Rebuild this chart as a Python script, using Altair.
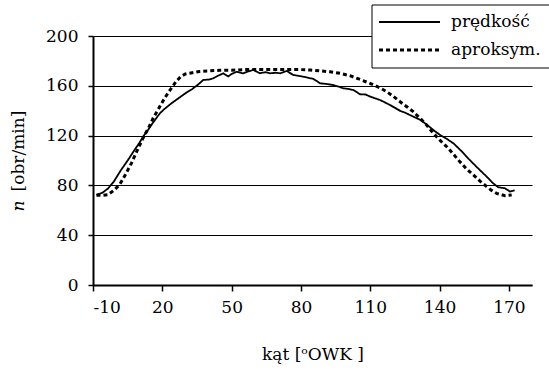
import altair as alt
import pandas as pd

# measured speed (prędkość)
speed_x = [-8.5, -6, -3.5, -1, 2, 5, 8, 10, 12, 14, 16, 19, 21, 24, 27, 30, 33, 35.5,
           37.7, 40, 42, 44, 46.4, 48.5, 50, 52.2, 55, 57, 59.4, 62.3, 64.5, 66.6, 69,
           71, 73.8, 76.7, 79, 81, 83, 85.4, 88.3, 91, 94, 96, 98.3, 100.5, 102.7,
           105.6, 108, 110, 112, 114.2, 116, 118.5, 120.5, 123, 125, 127.2, 129.5,
           131.5, 134, 136, 138, 140.2, 143, 146, 149.5, 153, 156.5, 160.4, 163,
           165.4, 168.3, 170.5, 172.5]
speed_y = [72.5, 74, 77.5, 83, 92, 100, 108.5, 114, 120, 125, 130.5, 138, 141.5, 146,
           150, 154, 157.5, 161, 164.7, 165, 166, 168, 170, 167.5, 169.5, 171.3, 170,
           171.5, 172.7, 170, 171, 170, 170.5, 170, 171.9, 168.7, 168, 167.3, 166.5,
           165.5, 162, 161.5, 160.6, 159.5, 158, 157.5, 156.6, 153.2, 153, 151.3, 150,
           148.6, 147, 144.6, 142.5, 139.8, 138.5, 136.5, 134.5, 132.8, 129.5, 126.5,
           123.5, 120.5, 117.5, 113.8, 107.5, 100.5, 94, 87, 82, 78.5, 77.7, 75, 76]

# approximation (aproksym.)
approx_x = [-8.5, -6, -3.5, -1, 1.5, 4, 6.6, 9, 11.6, 14, 16, 18.5, 21, 23.5, 26, 28,
            30, 33, 36, 40, 45, 50, 55, 60, 65, 70, 75, 80, 84, 88, 92.6, 97, 101.2,
            105, 109.9, 114, 117.1, 120, 122.9, 126, 128.6, 131.5, 134.4, 137.3, 140,
            143.1, 146, 148.8, 151.5, 154.6, 157.5, 160.4, 162.5, 164.7, 168.3, 171.2]
approx_y = [72, 72, 72.5, 76, 80.5, 88.5, 97.7, 107.5, 117.8, 126, 133.9, 142, 150,
            157, 163.5, 167.5, 169.5, 170.5, 171.5, 172, 172.5, 172.5, 173, 173, 173,
            173, 173, 173, 172.7, 172, 171.3, 170, 168.1, 165.5, 162, 158.5, 155.3,
            151.5, 147.2, 143, 139.2, 134, 128.5, 121.8, 116.5, 111.1, 105, 99, 93.5,
            88.4, 83.5, 79, 76, 73.6, 71.8, 72.3]

series_names = ["prędkość", "aproksym."]
x_ticks = [-10, 20, 50, 80, 110, 140, 170]
y_ticks = [0, 40, 80, 120, 160, 200]

FONT = "DejaVu Serif"
FS = 17

df = pd.concat([
    pd.DataFrame({"kat": speed_x, "n": speed_y, "seria": series_names[0], "o": range(len(speed_x))}),
    pd.DataFrame({"kat": approx_x, "n": approx_y, "seria": series_names[1], "o": range(len(approx_x))}),
])

W, H = 439, 249
DASHES = [[1, 0], [4, 3]]
WIDTHS = [1.8, 3]

lines = alt.Chart(df).mark_line(color="black", strokeCap="butt").encode(
    x=alt.X("kat:Q", scale=alt.Scale(domain=[-10, 180], nice=False, zero=False),
            axis=alt.Axis(values=x_ticks, title="kąt [ᵒOWK ]", grid=False,
                          labelExpr="'' + datum.value",
                          titlePadding=31, labelPadding=8)),
    y=alt.Y("n:Q", scale=alt.Scale(domain=[0, 200], nice=False),
            axis=alt.Axis(values=y_ticks, title=None, grid=True, labelPadding=10, tickSize=5)),
    order="o:Q",
    strokeDash=alt.StrokeDash("seria:N",
                              scale=alt.Scale(domain=series_names, range=DASHES),
                              legend=None),
    strokeWidth=alt.StrokeWidth("seria:N",
                                scale=alt.Scale(domain=series_names, range=WIDTHS),
                                legend=None),
)

# y-axis title with italic "n"
ytitle = alt.Chart(pd.DataFrame({"t": ["[obr/min]"]})).mark_text(
    angle=270, font=FONT, fontSize=FS, color="black", align="center", baseline="middle"
).encode(text="t:N", x=alt.value(-74), y=alt.value(115))
ntitle = alt.Chart(pd.DataFrame({"t": ["n"]})).mark_text(
    angle=270, font=FONT, fontSize=FS, fontStyle="italic", color="black",
    align="center", baseline="middle"
).encode(text="t:N", x=alt.value(-74), y=alt.value(170))

# legend box drawn by hand
leg_df = pd.DataFrame({"seria": series_names, "row": [0, 1]})
leg_box = alt.Chart(pd.DataFrame({"a": [0]})).mark_rect(
    fill="white", stroke="black", strokeWidth=1
).encode(x=alt.value(279), x2=alt.value(470), y=alt.value(-31), y2=alt.value(32))
leg_y = alt.Y("row:Q", scale=alt.Scale(domain=[0, 1], range=[-14, 14]), axis=None)
leg_lines = alt.Chart(leg_df).mark_rule(color="black", strokeCap="butt").encode(
    x=alt.value(286), x2=alt.value(347), y=leg_y,
    strokeDash=alt.StrokeDash("seria:N", scale=alt.Scale(domain=series_names, range=DASHES), legend=None),
    strokeWidth=alt.StrokeWidth("seria:N", scale=alt.Scale(domain=series_names, range=[2, 3]), legend=None),
)
leg_text = alt.Chart(leg_df).mark_text(
    font=FONT, fontSize=FS, color="black", align="left", baseline="middle"
).encode(x=alt.value(358), y=leg_y, text="seria:N")

chart = alt.layer(lines, ytitle, ntitle, leg_box, leg_lines, leg_text).resolve_scale(
    y="independent"
).properties(
    width=W, height=H,
    autosize=alt.AutoSizeParams(type="none"),
    padding={"left": 93, "top": 36, "right": 17, "bottom": 87},
).configure_view(stroke=None).configure_axis(
    labelFont=FONT, labelFontSize=FS, labelColor="black",
    titleFont=FONT, titleFontSize=FS, titleColor="black", titleFontWeight="normal",
    domainColor="black", domainWidth=2, tickColor="black", tickWidth=1.5, tickSize=6,
    gridColor="black", gridWidth=1, gridOpacity=1,
)

chart.save("out.html", embed_options={"renderer": "svg", "actions": False})
